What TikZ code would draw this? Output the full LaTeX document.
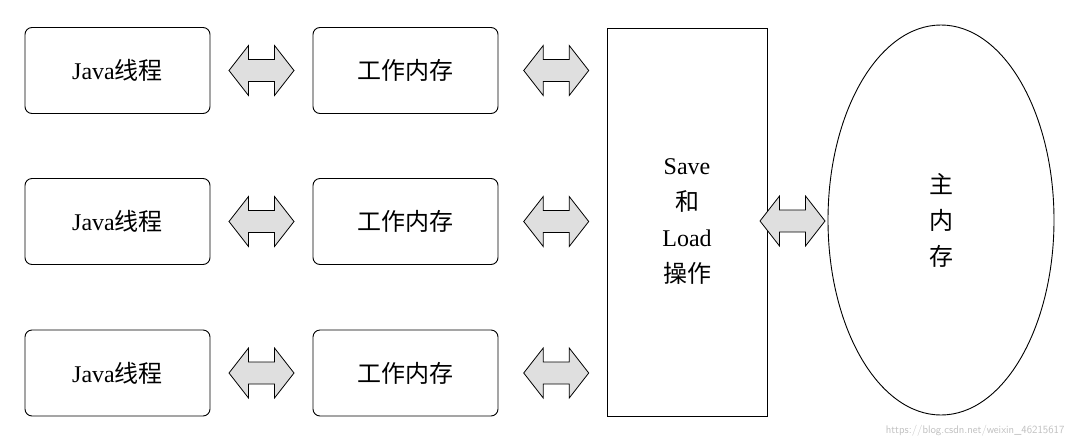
\documentclass[tikz,border=0pt]{standalone}
\usepackage{fontspec}
\usetikzlibrary{shapes.geometric}
\setmainfont{Liberation Serif}
\newfontfamily\cjk{Noto Sans CJK SC}
\begin{document}
\begin{tikzpicture}[x=1pt,y=-1pt,
  box/.style={draw,line width=0.9pt,rounded corners=7pt,minimum width=185pt,minimum height=86pt,font=\fontsize{24}{28}\selectfont},
  darr/.pic={\draw[line width=0.8pt,fill=gray!25] (-32.5,0)--(-13,-25)--(-13,-11)--(13,-11)--(13,-25)--(32.5,0)--(13,25)--(13,11)--(-13,11)--(-13,25)--cycle;}]
\useasboundingbox (0,0) rectangle (1071,445);
\foreach \i/\y in {1/70.5,2/221.5,3/373}{
  \node[box] (j\i) at (117.5,\y) {Java{\cjk 线程}};
  \node[box] (w\i) at (405.5,\y) {{\cjk 工作内存}};
  \path (j\i.east) -- (w\i.west) pic[pos=.5] {darr};
  \path (w\i.east) -- (614,\y) pic[pos=.5] {darr};
}
\node[draw,line width=0.9pt,minimum width=160pt,minimum height=388pt,align=center,font=\fontsize{24}{36}\selectfont] (s) at (687,222) {Save\\{\cjk 和}\\Load\\{\cjk 操作}};
\node[draw,ellipse,line width=0.9pt,minimum width=226pt,minimum height=390pt,align=center,font=\fontsize{24}{36}\selectfont\cjk] (m) at (941,220) {主\\内\\存};
\path (s.east) -- ([xshift=-10pt]m.west) pic[pos=.5] {darr};
\node[anchor=south east,text=gray!50,font=\fontsize{11}{12}\selectfont\sffamily] (wm) at (1068,440) {https://blog.csdn.net/weixin\_46215617};
\end{tikzpicture}
\end{document}
